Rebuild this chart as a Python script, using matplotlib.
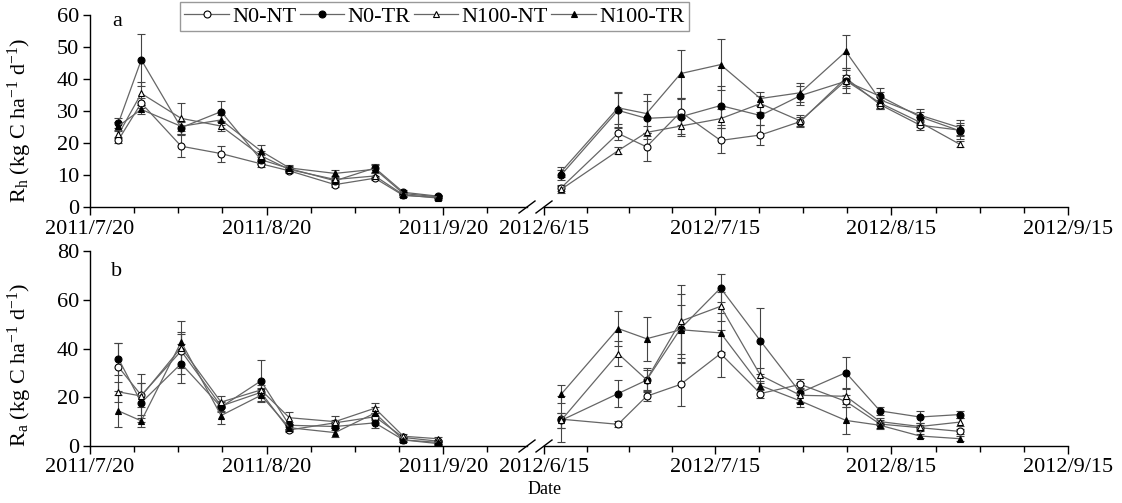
import numpy as np
import pandas as pd
import matplotlib.pyplot as plt
import matplotlib.dates as mdates
from matplotlib.ticker import FixedLocator, FixedFormatter, NullFormatter

plt.rcParams['font.family'] = ['Liberation Serif', 'DejaVu Serif']
plt.rcParams['mathtext.fontset'] = 'custom'
plt.rcParams['mathtext.rm'] = 'Liberation Serif'
plt.rcParams['mathtext.it'] = 'Liberation Serif:italic'

series = ['N0-NT', 'N0-TR', 'N100-NT', 'N100-TR']

dates_2011 = pd.to_datetime(['2011-07-25', '2011-07-29', '2011-08-05', '2011-08-12', '2011-08-19',
                             '2011-08-24', '2011-09-01', '2011-09-08', '2011-09-13', '2011-09-19'])
dates_2012 = pd.to_datetime(['2012-06-18', '2012-06-28', '2012-07-03', '2012-07-09', '2012-07-16',
                             '2012-07-23', '2012-07-30', '2012-08-07', '2012-08-13', '2012-08-20',
                             '2012-08-27'])

# panel a : Rh
rh_2011 = {
    'N0-NT':   [21.0, 32.5, 19.0, 16.7, 13.5, 11.3, 7.0, 9.0, 3.6, 3.0],
    'N0-TR':   [26.3, 46.0, 24.8, 29.8, 14.8, 12.0, 8.2, 12.2, 4.6, 3.4],
    'N100-NT': [22.7, 35.5, 27.7, 25.3, 16.0, 11.7, 8.6, 9.7, 3.8, 2.8],
    'N100-TR': [25.3, 30.5, 25.2, 27.2, 17.5, 12.2, 10.5, 11.8, 4.2, 3.2],
}
rh_2011_err = {
    'N0-NT':   [1.0, 1.5, 3.5, 2.5, 1.0, 0.8, 0.8, 0.6, 0.6, 0.5],
    'N0-TR':   [1.5, 8.2, 2.0, 3.3, 1.5, 0.8, 1.0, 1.2, 0.6, 0.5],
    'N100-NT': [1.2, 3.5, 4.8, 1.5, 1.5, 0.8, 1.0, 0.8, 0.6, 0.5],
    'N100-TR': [1.2, 1.5, 1.5, 1.5, 1.8, 0.8, 1.2, 1.2, 0.6, 0.5],
}
rh_2012 = {
    'N0-NT':   [6.0, 23.0, 18.8, 29.7, 20.8, 22.5, 26.7, 40.3, 32.0, 25.6, 24.0],
    'N0-TR':   [10.0, 30.2, 27.7, 28.2, 31.7, 28.6, 34.8, 39.3, 34.6, 28.2, 23.8],
    'N100-NT': [5.5, 17.6, 23.3, 25.3, 27.6, 32.3, 26.9, 39.5, 32.5, 26.5, 19.6],
    'N100-TR': [11.0, 31.0, 29.2, 41.7, 44.5, 33.9, 35.7, 48.6, 33.5, 28.7, 24.8],
}
rh_2012_err = {
    'N0-NT':   [1.0, 2.0, 4.3, 4.0, 4.0, 3.0, 1.5, 2.5, 1.5, 1.5, 1.5],
    'N0-TR':   [1.5, 5.5, 5.5, 6.0, 6.0, 3.0, 3.0, 2.0, 2.5, 1.5, 2.5],
    'N100-NT': [1.0, 1.0, 2.0, 2.5, 3.0, 2.5, 2.0, 4.0, 2.0, 1.5, 1.0],
    'N100-TR': [1.5, 5.0, 6.0, 7.5, 8.0, 2.0, 3.0, 5.2, 2.5, 1.8, 2.5],
}

# panel b : Ra
ra_2011 = {
    'N0-NT':   [32.4, 20.8, 39.0, 16.4, 22.0, 6.6, 9.5, 12.0, 3.5, 2.0],
    'N0-TR':   [35.8, 17.8, 33.8, 16.0, 26.7, 8.5, 8.0, 9.5, 2.5, 1.0],
    'N100-NT': [22.2, 20.5, 40.4, 18.0, 23.0, 11.6, 10.0, 15.5, 4.0, 3.0],
    'N100-TR': [14.4, 10.3, 42.7, 12.5, 20.8, 7.5, 5.5, 13.5, 2.5, 1.5],
}
ra_2011_err = {
    'N0-NT':   [10.0, 5.0, 7.0, 2.0, 2.0, 1.0, 1.0, 1.5, 0.8, 0.5],
    'N0-TR':   [6.5, 8.0, 8.0, 2.0, 8.5, 1.5, 1.5, 2.0, 0.8, 0.5],
    'N100-NT': [4.0, 9.0, 11.0, 2.5, 2.0, 2.5, 2.5, 2.0, 0.8, 0.8],
    'N100-TR': [6.5, 2.5, 4.0, 3.5, 2.5, 1.5, 2.0, 2.5, 0.8, 0.5],
}
ra_2012 = {
    'N0-NT':   [11.0, 8.9, 20.4, 25.3, 37.9, 21.5, 25.3, 18.3, 9.0, 7.5, 6.0],
    'N0-TR':   [10.5, 21.5, 27.0, 48.2, 64.8, 43.1, 21.9, 30.1, 14.4, 11.9, 12.9],
    'N100-NT': [10.5, 37.9, 27.2, 51.2, 57.3, 29.0, 20.8, 20.4, 10.0, 8.0, 9.8],
    'N100-TR': [21.2, 48.2, 44.0, 47.7, 46.4, 24.8, 18.5, 10.5, 8.5, 4.1, 3.0],
}
ra_2012_err = {
    'N0-NT':   [9.5, 1.2, 2.0, 9.0, 9.5, 2.0, 2.0, 2.5, 1.5, 1.2, 1.0],
    'N0-TR':   [3.0, 5.5, 4.0, 14.0, 5.7, 13.5, 4.0, 6.5, 1.5, 2.5, 1.5],
    'N100-NT': [3.0, 5.0, 5.0, 15.0, 6.0, 3.0, 3.0, 3.0, 1.5, 1.5, 1.5],
    'N100-TR': [3.7, 7.0, 9.0, 10.0, 8.0, 2.0, 2.5, 5.5, 1.5, 1.0, 1.0],
}

major_2011 = pd.to_datetime(['2011-07-20', '2011-08-20', '2011-09-20'])
labels_2011 = ['2011/7/20', '2011/8/20', '2011/9/20']
major_2012 = pd.to_datetime(['2012-06-15', '2012-07-15', '2012-08-15', '2012-09-15'])
labels_2012 = ['2012/6/15', '2012/7/15', '2012/8/15', '2012/9/15']

styles = {
    'N0-NT':   dict(marker='o', mfc='white'),
    'N0-TR':   dict(marker='o', mfc='black'),
    'N100-NT': dict(marker='^', mfc='white'),
    'N100-TR': dict(marker='^', mfc='black'),
}
line_col = '#666666'

W, H = 1122, 503
fig = plt.figure(figsize=(W / 100, H / 100), dpi=100)


def px_box(x0, x1, ytop, ybot):
    return [x0 / W, 1 - ybot / H, (x1 - x0) / W, (ybot - ytop) / H]


def style_axis(ax, majors, labels, with_y):
    m = mdates.date2num(majors)
    minors = []
    for a, b in zip(m[:-1], m[1:]):
        minors += list(a + (b - a) * np.array([0.25, 0.5, 0.75]))
    if len(m) == 3:
        minors.append(m[-1] + 7.75)
    ax.xaxis.set_major_locator(FixedLocator(m))
    ax.xaxis.set_major_formatter(FixedFormatter(labels))
    ax.xaxis.set_minor_locator(FixedLocator(minors))
    ax.xaxis.set_minor_formatter(NullFormatter())
    for s in ['top', 'right']:
        ax.spines[s].set_visible(False)
    ax.spines['bottom'].set_linewidth(1.0)
    ax.spines['left'].set_linewidth(1.0)
    ax.tick_params(axis='x', which='major', direction='out', length=6, width=1.0,
                   labelsize=16, pad=3)
    ax.tick_params(axis='x', which='minor', direction='out', length=4, width=1.0)
    ax.tick_params(axis='y', direction='out', length=5, width=1.0, labelsize=16, pad=3)
    if not with_y:
        ax.spines['left'].set_visible(False)
        ax.tick_params(axis='y', left=False, labelleft=False)


def draw(ax, dates, vals, errs):
    handles = []
    for s in series:
        ax.errorbar(dates, vals[s], yerr=errs[s], fmt='none', ecolor='#444444',
                    elinewidth=0.8, capsize=3, capthick=0.8, zorder=2)
    for s in series:
        h, = ax.plot(dates, vals[s], color=line_col, lw=0.9, mec='black', mew=0.8,
                     ms=5, label=s, zorder=3, **styles[s])
        handles.append(h)
    return handles


panels = [
    (15, 207, 60, 10, rh_2011, rh_2011_err, rh_2012, rh_2012_err, 'a',
     r'R$_\mathrm{h}$ (kg C ha$^{\mathrm{-1}}$ d$^{\mathrm{-1}}$)', 22, 120),
    (251, 446, 80, 20, ra_2011, ra_2011_err, ra_2012, ra_2012_err, 'b',
     r'R$_\mathrm{a}$ (kg C ha$^{\mathrm{-1}}$ d$^{\mathrm{-1}}$)', 272, 365),
]

t0_2011 = pd.Timestamp('2011-07-20')
t0_2012 = pd.Timestamp('2012-06-15')

for ytop, ybot, ymax, ystep, v11, e11, v12, e12, tag, ylab, tag_y, lab_y in panels:
    ax1 = fig.add_axes(px_box(90, 527, ytop, ybot))
    ax2 = fig.add_axes(px_box(544, 1068, ytop, ybot))
    h = draw(ax1, dates_2011, v11, e11)
    draw(ax2, dates_2012, v12, e12)
    ax1.set_xlim(t0_2011, t0_2011 + pd.Timedelta(days=76.7))
    ax2.set_xlim(t0_2012, t0_2012 + pd.Timedelta(days=92))
    for ax in (ax1, ax2):
        ax.set_ylim(0, ymax)
        ax.set_yticks(np.arange(0, ymax + 1, ystep))
    style_axis(ax1, major_2011, labels_2011, True)
    style_axis(ax2, major_2012, labels_2012, False)
    # axis break marks
    for ax, x in [(ax1, 1.0), (ax2, 0.0)]:
        dx = 8 / ax.bbox.width
        dy = 6 / ax.bbox.height
        ax.plot([x - dx, x + dx], [-dy, dy], transform=ax.transAxes, color='black',
                lw=1.0, clip_on=False)
    fig.text(117 / W, 1 - tag_y / H, tag, fontsize=16, ha='center', va='center')
    fig.text(20 / W, 1 - lab_y / H, ylab, fontsize=16, rotation=90,
             ha='center', va='center')
    if tag == 'a':
        leg_handles = h

fig.legend(leg_handles, series, loc='upper left', bbox_to_anchor=(180 / W, 1 - 2 / H),
           ncol=4, fontsize=16, frameon=True, fancybox=False, edgecolor='#808080',
           handlelength=2.0, handletextpad=0.15, columnspacing=0.15, borderpad=0.2,
           borderaxespad=0)
fig.text(545 / W, 1 - 490 / H, 'Date', fontsize=13, ha='center', va='center')

fig.savefig('out.png', dpi=100)
